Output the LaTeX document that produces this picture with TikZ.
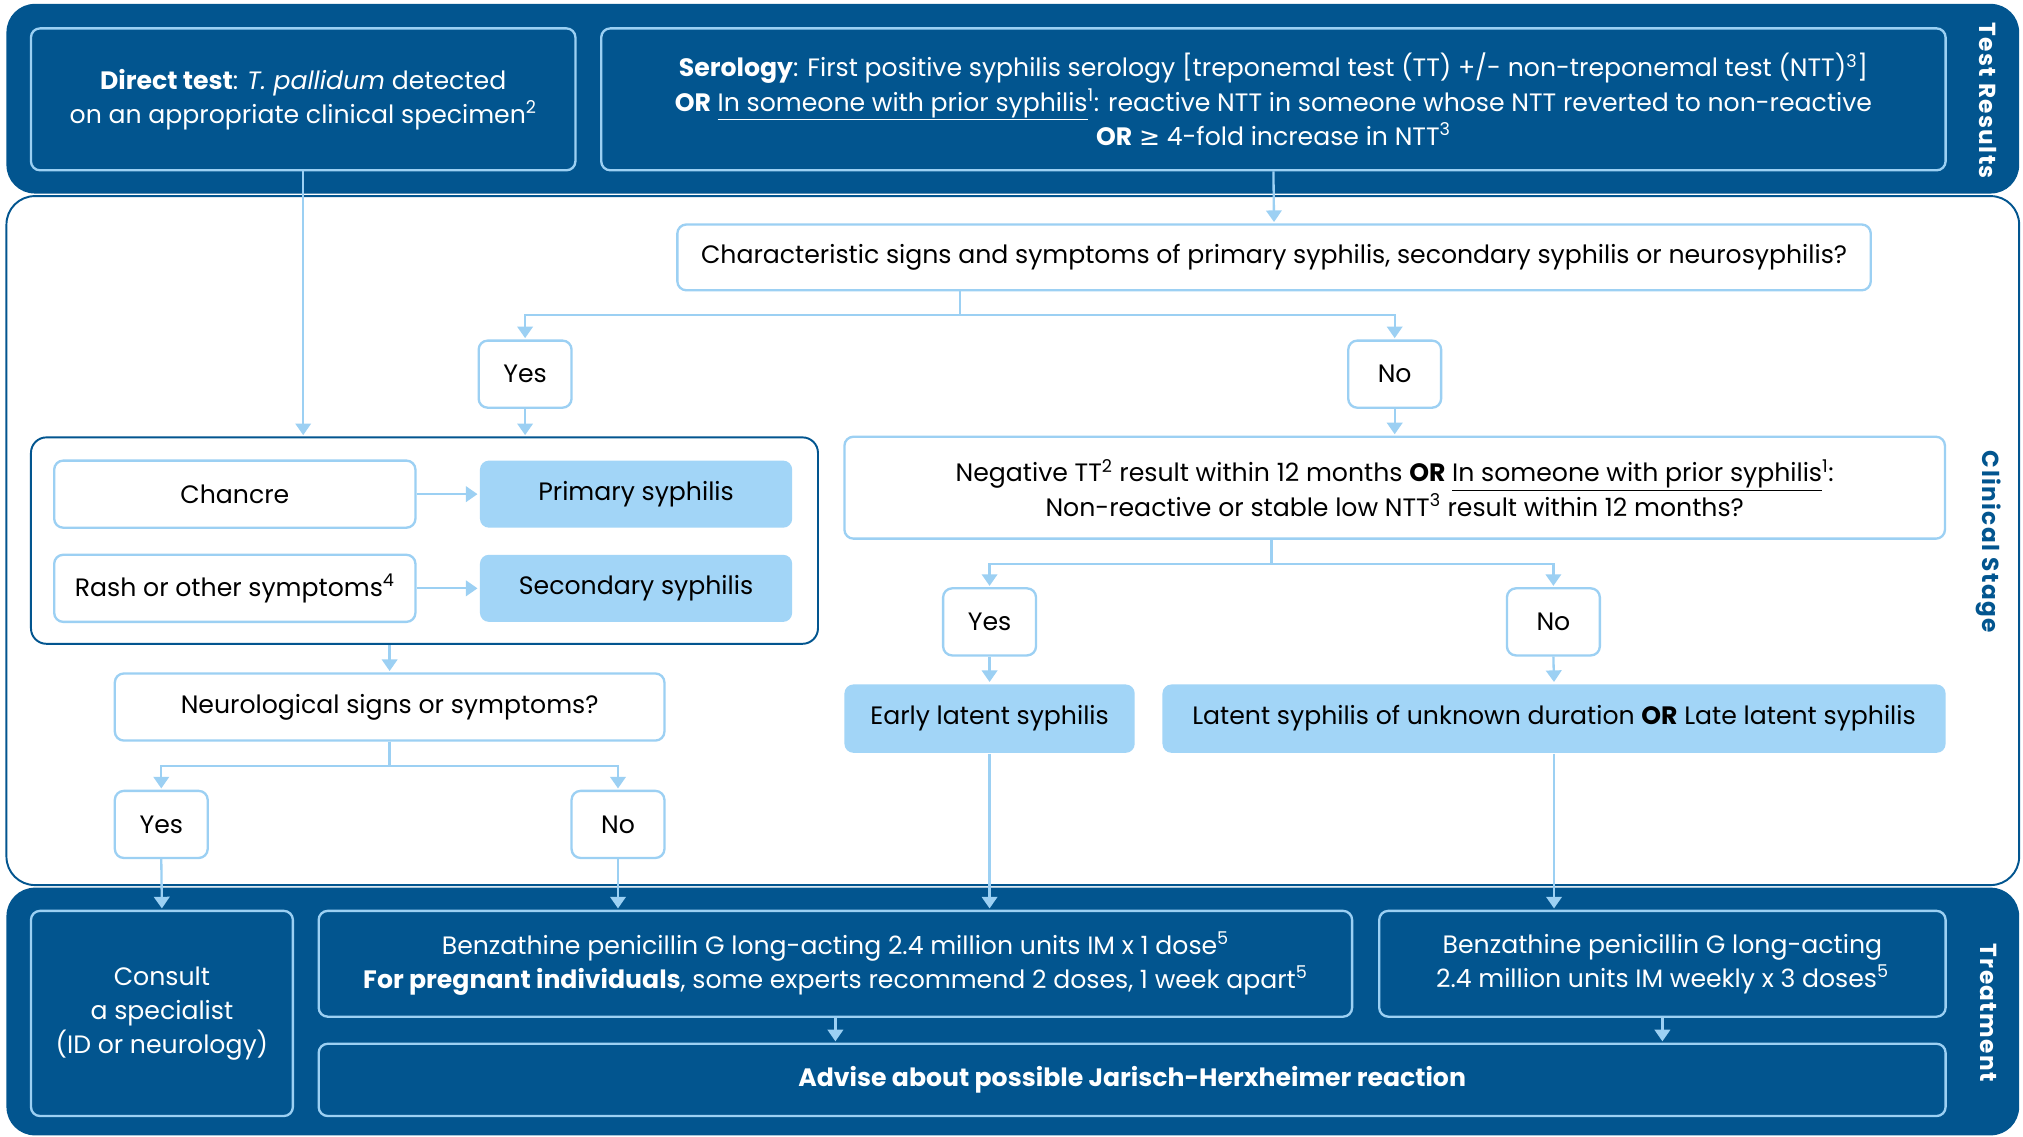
\documentclass[tikz,border=0pt]{standalone}
\usepackage{fontspec}
\setmainfont{Poppins}
\newfontfamily\symfont{DejaVu Sans}
\usepackage{tikz}
\usetikzlibrary{arrows.meta}
\usetikzlibrary{calc}
\usepackage{xcolor}
\definecolor{navy}{HTML}{02558F}
\definecolor{sky}{HTML}{A2D5F7}
\definecolor{skyline}{HTML}{9CD0F3}

\begin{document}
\begin{tikzpicture}[x=1pt,y=-1pt,
font={\fontsize{19.5}{26.5}\selectfont},
box/.style={draw=skyline,line width=1.8pt,rounded corners=7pt,align=center,inner sep=0pt},
wbox/.style={box,fill=white,text=black},
dbox/.style={box,fill=navy,text=white},
stage/.style={box,draw=none,fill=sky,text=black},
ans/.style={wbox,minimum width=72pt,minimum height=52pt},
arr/.style={draw=skyline,line width=1.8pt,-{Triangle[width=12pt,length=9pt]},shorten >=1pt},
tab/.style={rotate=-90,font={\fontsize{18}{20}\bfseries\selectfont\addfontfeatures{LetterSpace=6}}}]
\useasboundingbox (0,0) rectangle (1568,881);

% panels
\fill[navy,rounded corners=22pt] (5,3) rectangle (1565,150);
\draw[navy,line width=1.5pt,fill=white,rounded corners=22pt] (5,152) rectangle (1565,686);
\fill[navy,rounded corners=22pt] (5,688) rectangle (1565,880);
\node[tab,text=white] (TabT) at (1541,78) {Test Results};
\node[tab,text=navy] (TabC) at (1541,420) {Clinical Stage};
\node[tab,text=white] (TabR) at (1541,785) {Treatment};

% test results
\node[dbox,minimum width=422pt,minimum height=110pt] (Direct) at (235,77)
  {\textbf{Direct test}: \textit{T. pallidum} detected\\on an appropriate clinical specimen\textsuperscript{2}};
\node[dbox,minimum width=1042pt,minimum height=110pt] (Sero) at (987,77)
  {\textbf{Serology}: First positive syphilis serology [treponemal test (TT) +/- non-treponemal test (NTT)\textsuperscript{3}]\\
   \textbf{OR} \underline{In someone with prior syphilis}\textsuperscript{1}: reactive NTT in someone whose NTT reverted to non-reactive\\
   \textbf{OR} {\symfont ≥} 4-fold increase in NTT\textsuperscript{3}};

% clinical stage
\node[wbox,minimum width=925pt,minimum height=51pt] (q0) at (987.5,199.5)
  {Characteristic signs and symptoms of primary syphilis, secondary syphilis or neurosyphilis?};
\node[ans] (q0y) at (407,290) {Yes};
\node[ans] (q0n) at (1081,290) {No};

\node[draw=navy,line width=1.5pt,rounded corners=12pt,fill=white,minimum width=610pt,minimum height=160pt] (Grp) at (329,419) {};
\node[wbox,minimum width=280pt,minimum height=52pt] (Chancre) at (182,383) {Chancre};
\node[stage,minimum width=242pt,minimum height=52pt] (Prim) at (493,383) {Primary syphilis};
\node[wbox,minimum width=280pt,minimum height=52pt] (Rash) at (182,456) {Rash or other symptoms\textsuperscript{4}};
\node[stage,minimum width=242pt,minimum height=52pt] (Sec) at (493,456) {Secondary syphilis};

\node[wbox,minimum width=426pt,minimum height=52pt] (q2) at (302,548) {Neurological signs or symptoms?};
\node[ans] (q2y) at (125,639) {Yes};
\node[ans] (q2n) at (479,639) {No};

\node[wbox,minimum width=853pt,minimum height=79pt] (q1) at (1081,378)
  {Negative TT\textsuperscript{2} result within 12 months \textbf{OR} \underline{In someone with prior syphilis}\textsuperscript{1}:\\
   Non-reactive or stable low NTT\textsuperscript{3} result within 12 months?};
\node[ans] (q1y) at (767,482) {Yes};
\node[ans] (q1n) at (1204,482) {No};
\node[stage,minimum width=225pt,minimum height=53pt] (Early) at (767,557) {Early latent syphilis};
\node[stage,minimum width=607pt,minimum height=53pt] (Late) at (1204.5,557)
  {Latent syphilis of unknown duration \textbf{OR} Late latent syphilis};

% treatment
\node[dbox,minimum width=203pt,minimum height=159pt] (Consult) at (125.5,785.5)
  {Consult\\a specialist\\(ID or neurology)};
\node[dbox,minimum width=801pt,minimum height=82pt] (Ben1) at (647.5,747)
  {Benzathine penicillin G long-acting 2.4 million units IM x 1 dose\textsuperscript{5}\\
   \textbf{For pregnant individuals}, some experts recommend 2 doses, 1 week apart\textsuperscript{5}};
\node[dbox,minimum width=439pt,minimum height=82pt] (Ben2) at (1288.5,747)
  {Benzathine penicillin G long-acting\\2.4 million units IM weekly x 3 doses\textsuperscript{5}};
\node[dbox,minimum width=1261pt,minimum height=56pt] (Advise) at (877.5,837)
  {\textbf{Advise about possible Jarisch-Herxheimer reaction}};

% connectors
\coordinate (m0) at ($(q0y)!0.5!(q0n)$);
\coordinate (m1) at ($(q1y)!0.5!(q1n)$);
\draw[arr] (Direct.south) -- (Direct.south |- Grp.north);
\draw[arr] (Sero.south) -- (q0.north);
\draw[arr] (m0 |- q0.south) -- ++(0,18) -| (q0y.north);
\draw[arr] (m0 |- q0.south) -- ++(0,18) -| (q0n.north);
\draw[arr] (q0y.south) -- (q0y.south |- Grp.north);
\draw[arr] (q0n.south) -- (q1.north);
\draw[arr] (Chancre.east) -- (Prim.west);
\draw[arr] (Rash.east) -- (Sec.west);
\draw[arr] (q2.north |- Grp.south) -- (q2.north);
\draw[arr] (q2.south) -- ++(0,19) -| (q2y.north);
\draw[arr] (q2.south) -- ++(0,19) -| (q2n.north);
\draw[arr] (m1 |- q1.south) -- ++(0,19) -| (q1y.north);
\draw[arr] (m1 |- q1.south) -- ++(0,19) -| (q1n.north);
\draw[arr] (q1y.south) -- (Early.north);
\draw[arr] (q1n.south) -- (Late.north);
\draw[arr] (q2y.south) -- (Consult.north);
\draw[arr] (q2n.south) -- (q2n.south |- Ben1.north);
\draw[arr] (Early.south) -- (Early.south |- Ben1.north);
\draw[arr] (Late.south) -- (Late.south |- Ben2.north);
\draw[arr] (Ben1.south) -- (Ben1.south |- Advise.north);
\draw[arr] (Ben2.south) -- (Ben2.south |- Advise.north);
\end{tikzpicture}
\end{document}
